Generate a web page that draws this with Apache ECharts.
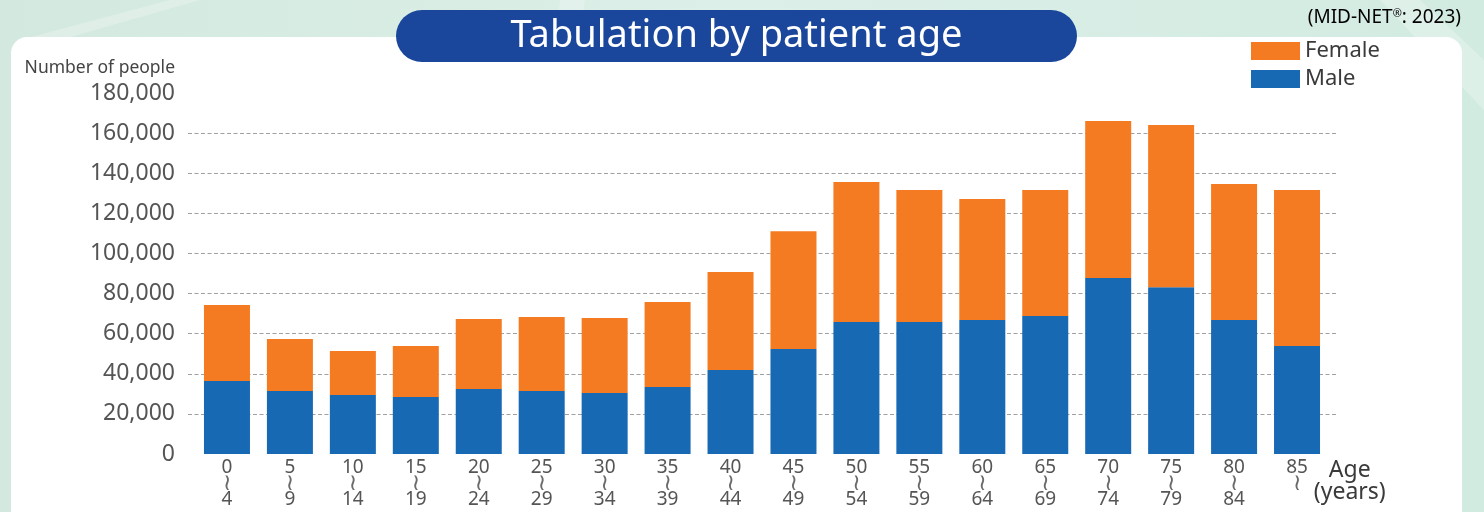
<!DOCTYPE html>
<html>
<head>
<meta charset="utf-8">
<title>Tabulation by patient age</title>
<script src="https://cdn.jsdelivr.net/npm/echarts@6/dist/echarts.min.js"></script>
<style>
  html, body { margin: 0; padding: 0; }
  #chart { width: 1484px; height: 512px; }
</style>
</head>
<body>
<div id="chart"></div>
<script>
// Age groups (five-year bands, last one open-ended)
const categories = [
  '0\n≀\n4', '5\n≀\n9', '10\n≀\n14', '15\n≀\n19', '20\n≀\n24', '25\n≀\n29',
  '30\n≀\n34', '35\n≀\n39', '40\n≀\n44', '45\n≀\n49', '50\n≀\n54', '55\n≀\n59',
  '60\n≀\n64', '65\n≀\n69', '70\n≀\n74', '75\n≀\n79', '80\n≀\n84', '85\n≀'
];

// Number of patients per age group
const maleValues = [
  36400, 31400, 29400, 28400, 32400, 31400, 30400, 33400, 41900,
  52300, 65800, 65800, 66800, 68800, 87700, 83200, 66800, 53800
];
const femaleValues = [
  37900, 25900, 21900, 25400, 34900, 36900, 37400, 42400, 48800,
  58800, 69800, 65800, 60300, 62800, 78300, 80800, 67800, 77800
];

// Value axis scale
const yMin = 0;
const yMax = 180000;
const yStep = 20000;

const FONT = '"Noto Sans", "Open Sans", sans-serif';
const MALE_COLOR = '#1769b4';
const FEMALE_COLOR = '#f47b21';

// Dashed grid lines only between the bottom and top ticks
const tickCount = (yMax - yMin) / yStep + 1;
const splitColors = [];
for (let i = 0; i < tickCount; i++) {
  splitColors.push(i === 0 || i === tickCount - 1 ? 'rgba(0,0,0,0)' : '#a0a0a0');
}

// Middle line of each age label is the "from ... to" wave mark
function ageLabel(value) {
  return value.split('\n').map((line, i) => (i === 1 ? '{w|' + line + '}' : '{n|' + line + '}')).join('\n');
}

const chart = echarts.init(document.getElementById('chart'), null, { renderer: 'canvas' });

chart.setOption({
  backgroundColor: {
    type: 'linear', x: 0, y: 0, x2: 1, y2: 0,
    colorStops: [
      { offset: 0, color: '#d3e9df' },
      { offset: 0.5, color: '#dcefe8' },
      { offset: 1, color: '#d2ebe1' }
    ]
  },
  animation: false,
  graphic: [
    // faint light streaks in the backdrop
    { type: 'polygon', z: -20, silent: true,
      shape: { points: [[170, 0], [200, 0], [60, 40], [20, 40]] },
      style: { fill: 'rgba(255,255,255,0.25)' } },
    { type: 'polygon', z: -20, silent: true,
      shape: { points: [[560, 0], [585, 0], [580, 40], [555, 40]] },
      style: { fill: 'rgba(255,255,255,0.22)' } },
    { type: 'polygon', z: -20, silent: true,
      shape: { points: [[1380, 0], [1420, 0], [1484, 60], [1484, 110]] },
      style: { fill: 'rgba(255,255,255,0.25)' } },
    // white panel
    { type: 'rect', z: -10, silent: true,
      shape: { x: 11, y: 37, width: 1451, height: 520, r: 16 },
      style: { fill: '#ffffff' } },
    // title pill
    { type: 'rect', z: 10, silent: true,
      shape: { x: 396, y: 10, width: 681, height: 52, r: 26 },
      style: { fill: '#1a479b' } },
    { type: 'text', z: 11, silent: true,
      x: 736.5, y: 36,
      style: {
        text: 'Tabulation by patient age',
        fill: '#ffffff',
        font: '38px ' + FONT,
        align: 'center',
        verticalAlign: 'middle'
      } },
    // data source note
    { type: 'text', z: 11, silent: true,
      x: 1461, y: 18,
      style: {
        text: '{a|(MID-NET}{r|®}{a|: 2023)}',
        align: 'right',
        verticalAlign: 'middle',
        rich: {
          a: { fontFamily: FONT, fontSize: 19, color: '#454545' },
          r: { fontFamily: FONT, fontSize: 11, color: '#454545', verticalAlign: 'top', padding: [0, 0, 6, 0] }
        }
      } }
  ],
  legend: {
    orient: 'vertical',
    left: 1251,
    top: 40,
    padding: 0,
    itemWidth: 49,
    itemHeight: 18,
    itemGap: 6,
    icon: 'rect',
    data: ['Female', 'Male'],
    textStyle: { fontFamily: FONT, fontSize: 22, color: '#3a3a3a' }
  },
  grid: [
    // grid carrying the value labels and dashed lines
    { left: 188, top: 93, width: 1150, height: 361 },
    // grid carrying the bars
    { left: 195.5, top: 93, width: 1133, height: 361 }
  ],
  xAxis: [
    { gridIndex: 0, type: 'value', min: 0, max: 1, show: false },
    {
      gridIndex: 1,
      type: 'category',
      data: categories,
      axisLine: { show: false },
      axisTick: { show: false },
      axisLabel: {
        margin: 6,
        verticalAlign: 'top',
        formatter: ageLabel,
        rich: {
          n: { fontFamily: FONT, fontSize: 19, lineHeight: 16, color: '#555555' },
          w: { fontFamily: '"DejaVu Sans", sans-serif', fontSize: 23, lineHeight: 16, color: '#6a6a6a' }
        }
      },
      name: 'Age\n(years)',
      nameLocation: 'end',
      nameGap: 20,
      nameTextStyle: {
        fontFamily: FONT,
        fontSize: 23,
        lineHeight: 22,
        color: '#3a3a3a',
        align: 'center',
        verticalAlign: 'top',
        padding: [5, 0, 0, 0]
      }
    }
  ],
  yAxis: [
    {
      gridIndex: 0,
      type: 'value',
      min: yMin,
      max: yMax,
      interval: yStep,
      axisLine: { show: false },
      axisTick: { show: false },
      axisLabel: {
        margin: 13,
        fontFamily: FONT,
        fontSize: 23,
        color: '#555555',
        formatter: v => v.toLocaleString('en-US')
      },
      splitLine: {
        show: true,
        lineStyle: { color: splitColors, type: [4, 2.5], width: 1 }
      },
      name: 'Number of people',
      nameLocation: 'end',
      nameGap: 16,
      nameTextStyle: {
        fontFamily: FONT,
        fontSize: 17.5,
        color: '#444444',
        align: 'right',
        padding: [0, 13, 0, 0]
      }
    },
    { gridIndex: 1, type: 'value', min: yMin, max: yMax, interval: yStep, show: false }
  ],
  series: [
    {
      name: 'Male',
      type: 'bar',
      stack: 'total',
      xAxisIndex: 1,
      yAxisIndex: 1,
      barWidth: 46,
      data: maleValues,
      itemStyle: { color: MALE_COLOR }
    },
    {
      name: 'Female',
      type: 'bar',
      stack: 'total',
      xAxisIndex: 1,
      yAxisIndex: 1,
      barWidth: 46,
      data: femaleValues,
      itemStyle: { color: FEMALE_COLOR }
    }
  ]
});
</script>
</body>
</html>
